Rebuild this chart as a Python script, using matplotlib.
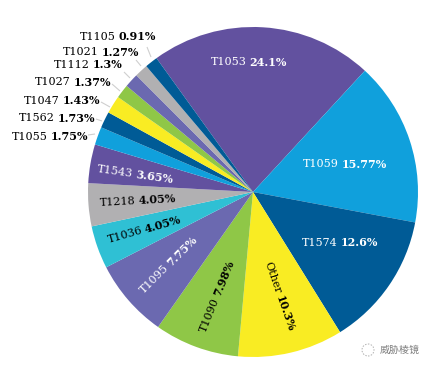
import matplotlib
matplotlib.use("Agg")
import matplotlib.pyplot as plt
import numpy as np
from matplotlib.patches import Circle

W, H = 433, 369
names = ["T1053", "T1059", "T1574", "Other", "T1090", "T1095", "T1036", "T1218",
         "T1543", "T1055", "T1562", "T1047", "T1027", "T1112", "T1021", "T1105"]
pct_labels = ["24.1%", "15.77%", "12.6%", "10.3%", "7.98%", "7.75%", "4.05%", "4.05%",
              "3.65%", "1.75%", "1.73%", "1.43%", "1.37%", "1.3%", "1.27%", "0.91%"]
# slice sizes as drawn in the picture (they differ slightly from the printed labels)
drawn_shares = [21.8, 16.1, 13.2, 10.3, 8.3, 7.7, 4.2, 4.2, 3.8, 1.75, 1.6, 1.75, 1.36, 1.39, 1.3, 1.25]
colors = ["#62519f", "#10a0dc", "#005b96", "#f9ec23", "#8fc747", "#6b69b0", "#2fc0d4", "#b1b0b2",
          "#62519f", "#10a0dc", "#005b96", "#f9ec23", "#8fc747", "#6b69b0", "#b1b0b2", "#005b96"]
text_colors = ["white", "white", "white", "black", "black", "white", "black", "black",
               "white", "black", "black", "black", "black", "black", "black", "black"]
# label centre (px from top-left) and rotation
label_pos = [(249, 61, 0), (345, 163, 0), (340, 242, 0), (280, 296, -71), (216, 296, 68),
             (168, 264, 45), (144, 229, 16), (138, 200, 3), (135, 173, -8),
             (50, 136, 0), (57, 117, 0), (62, 100, 0), (73, 81, 0), (88, 64, 0), (101, 51, 0), (118, 36, 0)]
leaders = {9: (88, 135, 95, 134), 10: (96, 119, 102, 121), 11: (101, 102, 110, 107),
           12: (112, 84, 120, 91), 13: (124, 72, 130, 78), 14: (136, 60, 141, 66), 15: (147, 47, 151, 57)}

FONT = "DejaVu Serif"
FS = 8.0

fig = plt.figure(figsize=(W / 100, H / 100), dpi=100, facecolor="white")
ax = fig.add_axes([0, 0, 1, 1])
ax.pie(drawn_shares, colors=colors, startangle=125.8, counterclock=False,
       radius=165, center=(253, H - 192), wedgeprops=dict(linewidth=0))
ax.set_xlim(0, W)
ax.set_ylim(0, H)
ax.set_aspect("equal")
ax.axis("off")

renderer = fig.canvas.get_renderer()

def two_part(cx, cy, rot, a, b, color):
    t1 = ax.text(0, 0, a, family=FONT, fontsize=FS, color=color, ha="center", va="center_baseline",
                 rotation=rot, rotation_mode="anchor")
    t2 = ax.text(0, 0, b, family=FONT, fontsize=FS, fontweight="bold", color=color, ha="center",
                 va="center_baseline", rotation=rot, rotation_mode="anchor")
    t1.set_rotation(0); t2.set_rotation(0)
    w1 = t1.get_window_extent(renderer).width
    w2 = t2.get_window_extent(renderer).width
    t1.set_rotation(rot); t2.set_rotation(rot)
    gap = 3.0
    total = w1 + gap + w2
    ux, uy = np.cos(np.radians(rot)), np.sin(np.radians(rot))
    y0 = H - cy
    d1 = -total / 2 + w1 / 2
    d2 = total / 2 - w2 / 2
    t1.set_position((cx + d1 * ux, y0 + d1 * uy))
    t2.set_position((cx + d2 * ux, y0 + d2 * uy))

for i, (n, p) in enumerate(zip(names, pct_labels)):
    cx, cy, rot = label_pos[i]
    two_part(cx, cy, rot, n, p, text_colors[i])

for x0, y0, x1, y1 in leaders.values():
    ax.plot([x0, x1], [H - y0, H - y1], color="#cfcfcf", lw=0.8, solid_capstyle="butt")

# watermark
ax.add_patch(Circle((368, H - 350), 6, fill=False, ec="#b0b0b0", lw=0.7, ls=(0, (1.5, 1.5))))
ax.text(380, H - 350, "威胁棱镜", family=["Noto Sans CJK SC", "DejaVu Sans"], fontsize=7.2,
        color="#808080", ha="left", va="center")

fig.savefig("out.png", dpi=100, facecolor="white")
